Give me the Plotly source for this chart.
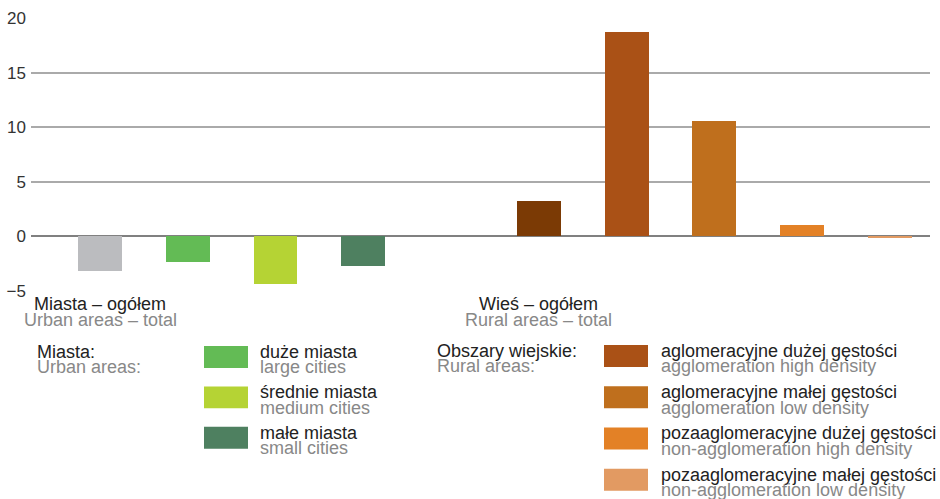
import plotly.graph_objects as go

# ---- data ----
categories = ["Miasta – ogółem", "duże miasta", "średnie miasta", "małe miasta", " ",
              "Wieś – ogółem", "aglomeracyjne dużej gęstości", "aglomeracyjne małej gęstości",
              "pozaaglomeracyjne dużej gęstości", "pozaaglomeracyjne małej gęstości"]
values = [-3.2, -2.3, -4.4, -2.7, None, 3.2, 18.7, 10.6, 1.0, -0.1]
colors = ["#BBBCBF", "#63BB55", "#B5D334", "#4E8060", "#FFFFFF",
          "#7B3A05", "#AA5116", "#BF6F1D", "#E38126", "#E29A62"]

group_labels_pl = ["Miasta – ogółem", "Wieś – ogółem"]
group_labels_en = ["Urban areas – total", "Rural areas – total"]

urban_head = ("Miasta:", "Urban areas:")
urban_items_pl = ["duże miasta", "średnie miasta", "małe miasta"]
urban_items_en = ["large cities", "medium cities", "small cities"]
urban_colors = ["#63BB55", "#B5D334", "#4E8060"]

rural_head = ("Obszary wiejskie:", "Rural areas:")
rural_items_pl = ["aglomeracyjne dużej gęstości", "aglomeracyjne małej gęstości",
                  "pozaaglomeracyjne dużej gęstości", "pozaaglomeracyjne małej gęstości"]
rural_items_en = ["agglomeration high density", "agglomeration low density",
                  "non-agglomeration high density", "non-agglomeration low density"]
rural_colors = ["#AA5116", "#BF6F1D", "#E38126", "#E29A62"]

y_ticks = [-5, 0, 5, 10, 15, 20]

# ---- layout geometry ----
W, H = 940, 499
L, R_EDGE, T, B_EDGE = 31, 930, 17.7, 291
FONT = "Liberation Sans, Arial, sans-serif"
DARK, GREY = "#222222", "#888888"
FS = 18


def px(x):
    return (x - L) / (R_EDGE - L)


def py(y):
    return (B_EDGE - y) / (B_EDGE - T)


fig = go.Figure()
fig.add_trace(go.Bar(x=categories, y=values, marker=dict(color=colors, line=dict(width=0)),
                     width=0.5, hoverinfo="x+y"))

annotations = []
shapes = []


def text(x, y, s, color, anchor="left", size=FS):
    annotations.append(dict(x=px(x), y=py(y), xref="paper", yref="paper", text=s,
                            showarrow=False, xanchor=anchor, yanchor="middle",
                            font=dict(family=FONT, size=size, color=color), borderpad=0))


# group labels under the axis (placed at their categories)
for cat, pl, en in zip([categories[0], categories[5]], group_labels_pl, group_labels_en):
    annotations.append(dict(x=cat, xref="x", y=py(304), yref="paper", text=pl, showarrow=False,
                            xanchor="center", yanchor="middle", borderpad=0,
                            font=dict(family=FONT, size=18, color=DARK)))
    annotations.append(dict(x=cat, xref="x", y=py(320), yref="paper", text=en, showarrow=False,
                            xanchor="center", yanchor="middle", borderpad=0,
                            font=dict(family=FONT, size=18, color=GREY)))

# legend block – urban
text(36, 352, urban_head[0], DARK)
text(36, 367.5, urban_head[1], GREY)
for i, (pl, en, c) in enumerate(zip(urban_items_pl, urban_items_en, urban_colors)):
    y0 = 346 + i * 40.5
    shapes.append(dict(type="rect", xref="paper", yref="paper", x0=px(204), x1=px(248),
                       y0=py(y0), y1=py(y0 + 22), fillcolor=c, line=dict(width=0)))
    text(259, y0 + 6, pl, DARK)
    text(259, y0 + 21.5, en, GREY)

# legend block – rural
text(436, 351, rural_head[0], DARK)
text(436, 366.5, rural_head[1], GREY)
for i, (pl, en, c) in enumerate(zip(rural_items_pl, rural_items_en, rural_colors)):
    y0 = 345 + i * 41.3
    shapes.append(dict(type="rect", xref="paper", yref="paper", x0=px(604), x1=px(648),
                       y0=py(y0), y1=py(y0 + 22), fillcolor=c, line=dict(width=0)))
    text(660, y0 + 6, pl, DARK)
    text(660, y0 + 21.5, en, GREY)

spacing_units_left = (100 - L) / 87.77
spacing_units_right = (R_EDGE - 100) / 87.77

fig.update_layout(
    width=W, height=H,
    margin=dict(l=L, r=W - R_EDGE, t=T, b=H - B_EDGE, pad=0, autoexpand=False),
    paper_bgcolor="white", plot_bgcolor="white",
    showlegend=False,
    bargap=0,
    font=dict(family=FONT, size=FS, color="#333333"),
    xaxis=dict(type="category", categoryorder="array", categoryarray=categories,
               showticklabels=False, showgrid=False, zeroline=False, showline=False,
               ticks="", automargin=False,
               range=[-spacing_units_left, spacing_units_right], fixedrange=True),
    yaxis=dict(range=[-5, 20], tickvals=y_ticks, showgrid=True, gridcolor="#AAAAAA",
               gridwidth=1.5, zeroline=True, zerolinecolor="#808080", zerolinewidth=1.5,
               showline=False, ticks="", ticklabelstandoff=4, automargin=False,
               tickfont=dict(family=FONT, size=17, color="#333333")),
    annotations=annotations,
    shapes=shapes,
)

fig.write_html("out.html", config={"displayModeBar": False},
               post_script="document.body.style.margin='0';")
